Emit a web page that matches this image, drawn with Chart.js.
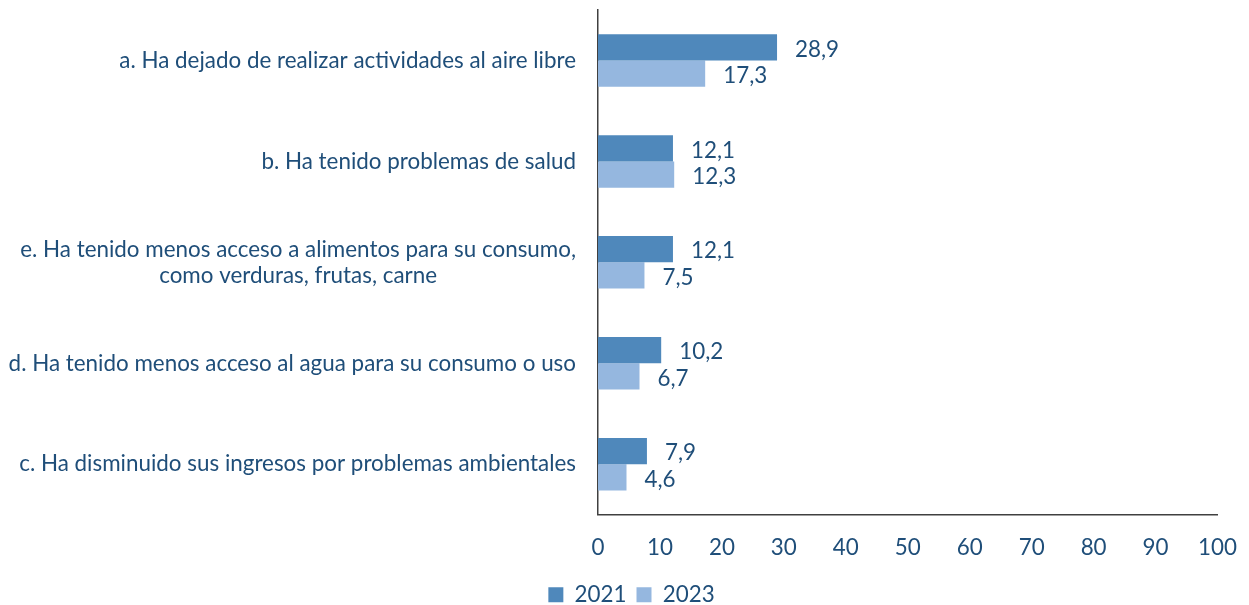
<!DOCTYPE html>
<html>
<head>
<meta charset="utf-8">
<script src="https://cdn.jsdelivr.net/npm/chart.js@4/dist/chart.umd.min.js"></script>
<style>
    html, body { margin: 0; padding: 0; background: #ffffff; }
    #wrap { width: 1249px; height: 605px; }
</style>
</head>
<body>
<div id="wrap"><canvas id="chart"></canvas></div>
<script>
// Categories (multi-line labels as arrays)
const categories = [
    ['a. Ha dejado de realizar actividades al aire libre'],
    ['b. Ha tenido problemas de salud'],
    ['e. Ha tenido menos acceso a alimentos para su consumo,', 'como verduras, frutas, carne'],
    ['d. Ha tenido menos acceso al agua para su consumo o uso'],
    ['c. Ha disminuido sus ingresos por problemas ambientales']
];
const values2021 = [28.9, 12.1, 12.1, 10.2, 7.9];
const values2023 = [17.3, 12.3, 7.5, 6.7, 4.6];
const xTicks = [0, 10, 20, 30, 40, 50, 60, 70, 80, 90, 100];

const TEXT = '#1F4E79';
const FONT = 'Lato';
const SIZE = 22.4;

// Draws the category labels: block right-aligned to the axis, lines centered inside
const categoryLabels = {
    id: 'categoryLabels',
    afterDraw(chart) {
        const ctx = chart.ctx;
        const scale = chart.scales.y;
        ctx.save();
        ctx.font = `${SIZE}px ${FONT}`;
        ctx.fillStyle = TEXT;
        ctx.textAlign = 'center';
        ctx.textBaseline = 'middle';
        const lineH = 26;
        categories.forEach((lines, i) => {
            const y = scale.getPixelForTick(i);
            const w = Math.max(...lines.map(l => ctx.measureText(l).width));
            const cx = scale.right - 22 - w / 2;
            const y0 = y - (lines.length - 1) * lineH / 2;
            lines.forEach((l, j) => ctx.fillText(l, cx, y0 + j * lineH));
        });
        ctx.restore();
    }
};

// Value labels at the end of each bar
const valueLabels = {
    id: 'valueLabels',
    afterDatasetsDraw(chart) {
        const ctx = chart.ctx;
        ctx.save();
        ctx.font = `${SIZE}px ${FONT}`;
        ctx.fillStyle = TEXT;
        ctx.textAlign = 'left';
        ctx.textBaseline = 'middle';
        chart.data.datasets.forEach((ds, di) => {
            chart.getDatasetMeta(di).data.forEach((bar, i) => {
                ctx.fillText(ds.data[i].toFixed(1).replace('.', ','), bar.x + 18, bar.y + 2);
            });
        });
        ctx.restore();
    }
};

new Chart(document.getElementById('chart'), {
    type: 'bar',
    data: {
        labels: categories,
        datasets: [
            { label: '2021', data: values2021, backgroundColor: '#4F88BB' },
            { label: '2023', data: values2023, backgroundColor: '#95B7DF' }
        ]
    },
    options: {
        indexAxis: 'y',
        responsive: true,
        maintainAspectRatio: false,
        animation: false,
        categoryPercentage: 0.52,
        barPercentage: 1,
        layout: { padding: { top: 10, right: -14, left: 0, bottom: -11 } },
        plugins: {
            tooltip: { enabled: false },
            legend: {
                position: 'bottom',
                labels: {
                    color: TEXT,
                    font: { family: FONT, size: SIZE },
                    boxWidth: 15,
                    boxHeight: 15,
                    padding: 10
                }
            }
        },
        scales: {
            x: {
                min: 0,
                max: 100,
                afterBuildTicks: (scale) => { scale.ticks = xTicks.map(v => ({ value: v })); },
                ticks: { color: TEXT, font: { family: FONT, size: SIZE }, padding: 12 },
                grid: { display: false },
                border: { display: true, color: '#404040', width: 1.5 }
            },
            y: {
                ticks: { display: false },
                afterFit: (scale) => { scale.width = 598; },
                grid: { display: false },
                border: { display: true, color: '#404040', width: 1.5 }
            }
        }
    },
    plugins: [categoryLabels, valueLabels]
});
</script>
</body>
</html>
